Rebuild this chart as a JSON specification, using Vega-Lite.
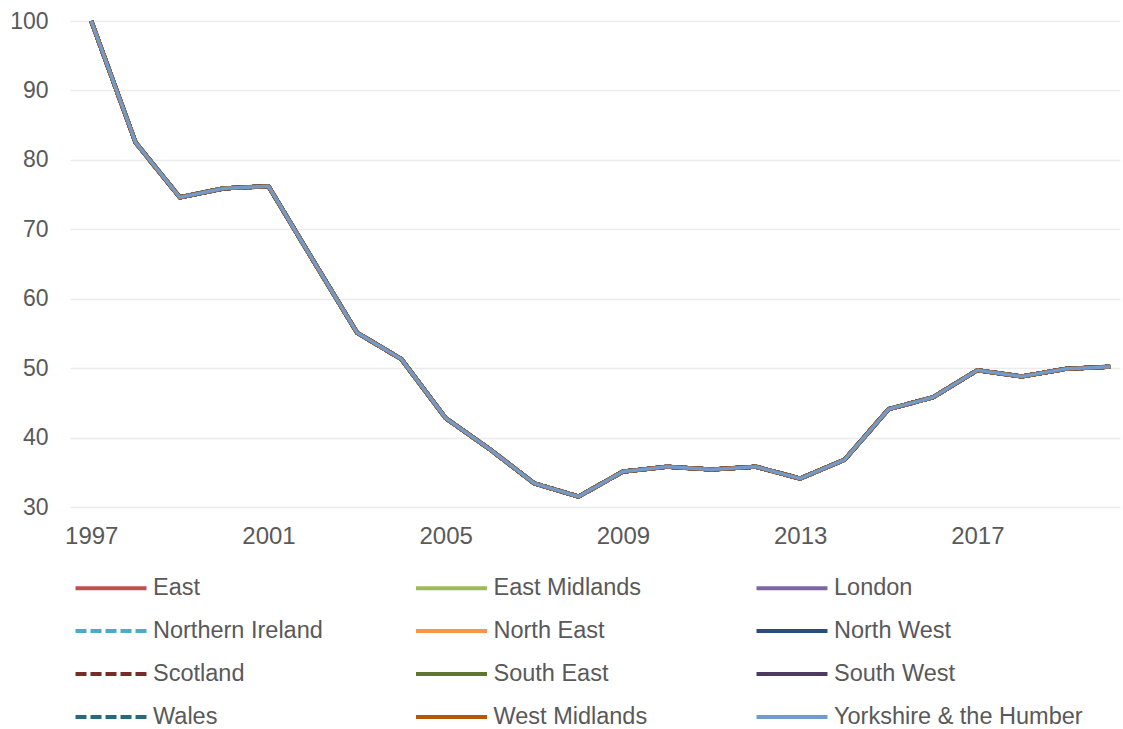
{
  "$schema": "https://vega.github.io/schema/vega-lite/v6.json",
  "autosize": "none",
  "width": 1050,
  "height": 486,
  "padding": {"left": 70, "top": 21, "right": 3, "bottom": 222},
  "background": "#ffffff",
  "config": {
    "font": "Liberation Sans",
    "view": {"stroke": null},
    "axis": {
      "labelFont": "Liberation Sans",
      "labelFontSize": 22,
      "labelColor": "#595959",
      "domain": false,
      "ticks": false,
      "title": null
    },
    "legend": {
      "orient": "none",
      "legendX": 27,
      "legendY": 553,
      "direction": "horizontal",
      "columns": 3,
      "gridAlign": "all",
      "columnPadding": 5.5,
      "rowPadding": 17,
      "padding": 0,
      "symbolType": "M-3,0H3",
      "symbolSize": 560,
      "symbolStrokeWidth": 4,
      "labelFont": "Liberation Sans",
      "labelFontSize": 23.5,
      "labelColor": "#595959",
      "labelOffset": 28,
      "labelLimit": 0
    }
  },
  "data": {
    "values": [
      {"region": "East", "year": 1997, "index": 100},
      {"region": "East", "year": 1998, "index": 82.5},
      {"region": "East", "year": 1999, "index": 74.6},
      {"region": "East", "year": 2000, "index": 75.9},
      {"region": "East", "year": 2001, "index": 76.2},
      {"region": "East", "year": 2002, "index": 65.6},
      {"region": "East", "year": 2003, "index": 55.1},
      {"region": "East", "year": 2004, "index": 51.3},
      {"region": "East", "year": 2005, "index": 42.8},
      {"region": "East", "year": 2006, "index": 38.3},
      {"region": "East", "year": 2007, "index": 33.4},
      {"region": "East", "year": 2008, "index": 31.5},
      {"region": "East", "year": 2009, "index": 35.1},
      {"region": "East", "year": 2010, "index": 35.8},
      {"region": "East", "year": 2011, "index": 35.4},
      {"region": "East", "year": 2012, "index": 35.8},
      {"region": "East", "year": 2013, "index": 34.1},
      {"region": "East", "year": 2014, "index": 36.8},
      {"region": "East", "year": 2015, "index": 44.1},
      {"region": "East", "year": 2016, "index": 45.8},
      {"region": "East", "year": 2017, "index": 49.7},
      {"region": "East", "year": 2018, "index": 48.8},
      {"region": "East", "year": 2019, "index": 49.9},
      {"region": "East", "year": 2020, "index": 50.2},
      {"region": "East Midlands", "year": 1997, "index": 100},
      {"region": "East Midlands", "year": 1998, "index": 82.5},
      {"region": "East Midlands", "year": 1999, "index": 74.6},
      {"region": "East Midlands", "year": 2000, "index": 75.9},
      {"region": "East Midlands", "year": 2001, "index": 76.2},
      {"region": "East Midlands", "year": 2002, "index": 65.6},
      {"region": "East Midlands", "year": 2003, "index": 55.1},
      {"region": "East Midlands", "year": 2004, "index": 51.3},
      {"region": "East Midlands", "year": 2005, "index": 42.8},
      {"region": "East Midlands", "year": 2006, "index": 38.3},
      {"region": "East Midlands", "year": 2007, "index": 33.4},
      {"region": "East Midlands", "year": 2008, "index": 31.5},
      {"region": "East Midlands", "year": 2009, "index": 35.1},
      {"region": "East Midlands", "year": 2010, "index": 35.8},
      {"region": "East Midlands", "year": 2011, "index": 35.4},
      {"region": "East Midlands", "year": 2012, "index": 35.8},
      {"region": "East Midlands", "year": 2013, "index": 34.1},
      {"region": "East Midlands", "year": 2014, "index": 36.8},
      {"region": "East Midlands", "year": 2015, "index": 44.1},
      {"region": "East Midlands", "year": 2016, "index": 45.8},
      {"region": "East Midlands", "year": 2017, "index": 49.7},
      {"region": "East Midlands", "year": 2018, "index": 48.8},
      {"region": "East Midlands", "year": 2019, "index": 49.9},
      {"region": "East Midlands", "year": 2020, "index": 50.2},
      {"region": "London", "year": 1997, "index": 100},
      {"region": "London", "year": 1998, "index": 82.5},
      {"region": "London", "year": 1999, "index": 74.6},
      {"region": "London", "year": 2000, "index": 75.9},
      {"region": "London", "year": 2001, "index": 76.2},
      {"region": "London", "year": 2002, "index": 65.6},
      {"region": "London", "year": 2003, "index": 55.1},
      {"region": "London", "year": 2004, "index": 51.3},
      {"region": "London", "year": 2005, "index": 42.8},
      {"region": "London", "year": 2006, "index": 38.3},
      {"region": "London", "year": 2007, "index": 33.4},
      {"region": "London", "year": 2008, "index": 31.5},
      {"region": "London", "year": 2009, "index": 35.1},
      {"region": "London", "year": 2010, "index": 35.8},
      {"region": "London", "year": 2011, "index": 35.4},
      {"region": "London", "year": 2012, "index": 35.8},
      {"region": "London", "year": 2013, "index": 34.1},
      {"region": "London", "year": 2014, "index": 36.8},
      {"region": "London", "year": 2015, "index": 44.1},
      {"region": "London", "year": 2016, "index": 45.8},
      {"region": "London", "year": 2017, "index": 49.7},
      {"region": "London", "year": 2018, "index": 48.8},
      {"region": "London", "year": 2019, "index": 49.9},
      {"region": "London", "year": 2020, "index": 50.2},
      {"region": "Northern Ireland", "year": 1997, "index": 100},
      {"region": "Northern Ireland", "year": 1998, "index": 82.5},
      {"region": "Northern Ireland", "year": 1999, "index": 74.6},
      {"region": "Northern Ireland", "year": 2000, "index": 75.9},
      {"region": "Northern Ireland", "year": 2001, "index": 76.2},
      {"region": "Northern Ireland", "year": 2002, "index": 65.6},
      {"region": "Northern Ireland", "year": 2003, "index": 55.1},
      {"region": "Northern Ireland", "year": 2004, "index": 51.3},
      {"region": "Northern Ireland", "year": 2005, "index": 42.8},
      {"region": "Northern Ireland", "year": 2006, "index": 38.3},
      {"region": "Northern Ireland", "year": 2007, "index": 33.4},
      {"region": "Northern Ireland", "year": 2008, "index": 31.5},
      {"region": "Northern Ireland", "year": 2009, "index": 35.1},
      {"region": "Northern Ireland", "year": 2010, "index": 35.8},
      {"region": "Northern Ireland", "year": 2011, "index": 35.4},
      {"region": "Northern Ireland", "year": 2012, "index": 35.8},
      {"region": "Northern Ireland", "year": 2013, "index": 34.1},
      {"region": "Northern Ireland", "year": 2014, "index": 36.8},
      {"region": "Northern Ireland", "year": 2015, "index": 44.1},
      {"region": "Northern Ireland", "year": 2016, "index": 45.8},
      {"region": "Northern Ireland", "year": 2017, "index": 49.7},
      {"region": "Northern Ireland", "year": 2018, "index": 48.8},
      {"region": "Northern Ireland", "year": 2019, "index": 49.9},
      {"region": "Northern Ireland", "year": 2020, "index": 50.2},
      {"region": "North East", "year": 1997, "index": 100},
      {"region": "North East", "year": 1998, "index": 82.5},
      {"region": "North East", "year": 1999, "index": 74.6},
      {"region": "North East", "year": 2000, "index": 75.9},
      {"region": "North East", "year": 2001, "index": 76.2},
      {"region": "North East", "year": 2002, "index": 65.6},
      {"region": "North East", "year": 2003, "index": 55.1},
      {"region": "North East", "year": 2004, "index": 51.3},
      {"region": "North East", "year": 2005, "index": 42.8},
      {"region": "North East", "year": 2006, "index": 38.3},
      {"region": "North East", "year": 2007, "index": 33.4},
      {"region": "North East", "year": 2008, "index": 31.5},
      {"region": "North East", "year": 2009, "index": 35.1},
      {"region": "North East", "year": 2010, "index": 35.8},
      {"region": "North East", "year": 2011, "index": 35.4},
      {"region": "North East", "year": 2012, "index": 35.8},
      {"region": "North East", "year": 2013, "index": 34.1},
      {"region": "North East", "year": 2014, "index": 36.8},
      {"region": "North East", "year": 2015, "index": 44.1},
      {"region": "North East", "year": 2016, "index": 45.8},
      {"region": "North East", "year": 2017, "index": 49.7},
      {"region": "North East", "year": 2018, "index": 48.8},
      {"region": "North East", "year": 2019, "index": 49.9},
      {"region": "North East", "year": 2020, "index": 50.2},
      {"region": "North West", "year": 1997, "index": 100},
      {"region": "North West", "year": 1998, "index": 82.5},
      {"region": "North West", "year": 1999, "index": 74.6},
      {"region": "North West", "year": 2000, "index": 75.9},
      {"region": "North West", "year": 2001, "index": 76.2},
      {"region": "North West", "year": 2002, "index": 65.6},
      {"region": "North West", "year": 2003, "index": 55.1},
      {"region": "North West", "year": 2004, "index": 51.3},
      {"region": "North West", "year": 2005, "index": 42.8},
      {"region": "North West", "year": 2006, "index": 38.3},
      {"region": "North West", "year": 2007, "index": 33.4},
      {"region": "North West", "year": 2008, "index": 31.5},
      {"region": "North West", "year": 2009, "index": 35.1},
      {"region": "North West", "year": 2010, "index": 35.8},
      {"region": "North West", "year": 2011, "index": 35.4},
      {"region": "North West", "year": 2012, "index": 35.8},
      {"region": "North West", "year": 2013, "index": 34.1},
      {"region": "North West", "year": 2014, "index": 36.8},
      {"region": "North West", "year": 2015, "index": 44.1},
      {"region": "North West", "year": 2016, "index": 45.8},
      {"region": "North West", "year": 2017, "index": 49.7},
      {"region": "North West", "year": 2018, "index": 48.8},
      {"region": "North West", "year": 2019, "index": 49.9},
      {"region": "North West", "year": 2020, "index": 50.2},
      {"region": "Scotland", "year": 1997, "index": 100},
      {"region": "Scotland", "year": 1998, "index": 82.5},
      {"region": "Scotland", "year": 1999, "index": 74.6},
      {"region": "Scotland", "year": 2000, "index": 75.9},
      {"region": "Scotland", "year": 2001, "index": 76.2},
      {"region": "Scotland", "year": 2002, "index": 65.6},
      {"region": "Scotland", "year": 2003, "index": 55.1},
      {"region": "Scotland", "year": 2004, "index": 51.3},
      {"region": "Scotland", "year": 2005, "index": 42.8},
      {"region": "Scotland", "year": 2006, "index": 38.3},
      {"region": "Scotland", "year": 2007, "index": 33.4},
      {"region": "Scotland", "year": 2008, "index": 31.5},
      {"region": "Scotland", "year": 2009, "index": 35.1},
      {"region": "Scotland", "year": 2010, "index": 35.8},
      {"region": "Scotland", "year": 2011, "index": 35.4},
      {"region": "Scotland", "year": 2012, "index": 35.8},
      {"region": "Scotland", "year": 2013, "index": 34.1},
      {"region": "Scotland", "year": 2014, "index": 36.8},
      {"region": "Scotland", "year": 2015, "index": 44.1},
      {"region": "Scotland", "year": 2016, "index": 45.8},
      {"region": "Scotland", "year": 2017, "index": 49.7},
      {"region": "Scotland", "year": 2018, "index": 48.8},
      {"region": "Scotland", "year": 2019, "index": 49.9},
      {"region": "Scotland", "year": 2020, "index": 50.2},
      {"region": "South East", "year": 1997, "index": 100},
      {"region": "South East", "year": 1998, "index": 82.5},
      {"region": "South East", "year": 1999, "index": 74.6},
      {"region": "South East", "year": 2000, "index": 75.9},
      {"region": "South East", "year": 2001, "index": 76.2},
      {"region": "South East", "year": 2002, "index": 65.6},
      {"region": "South East", "year": 2003, "index": 55.1},
      {"region": "South East", "year": 2004, "index": 51.3},
      {"region": "South East", "year": 2005, "index": 42.8},
      {"region": "South East", "year": 2006, "index": 38.3},
      {"region": "South East", "year": 2007, "index": 33.4},
      {"region": "South East", "year": 2008, "index": 31.5},
      {"region": "South East", "year": 2009, "index": 35.1},
      {"region": "South East", "year": 2010, "index": 35.8},
      {"region": "South East", "year": 2011, "index": 35.4},
      {"region": "South East", "year": 2012, "index": 35.8},
      {"region": "South East", "year": 2013, "index": 34.1},
      {"region": "South East", "year": 2014, "index": 36.8},
      {"region": "South East", "year": 2015, "index": 44.1},
      {"region": "South East", "year": 2016, "index": 45.8},
      {"region": "South East", "year": 2017, "index": 49.7},
      {"region": "South East", "year": 2018, "index": 48.8},
      {"region": "South East", "year": 2019, "index": 49.9},
      {"region": "South East", "year": 2020, "index": 50.2},
      {"region": "South West", "year": 1997, "index": 100},
      {"region": "South West", "year": 1998, "index": 82.5},
      {"region": "South West", "year": 1999, "index": 74.6},
      {"region": "South West", "year": 2000, "index": 75.9},
      {"region": "South West", "year": 2001, "index": 76.2},
      {"region": "South West", "year": 2002, "index": 65.6},
      {"region": "South West", "year": 2003, "index": 55.1},
      {"region": "South West", "year": 2004, "index": 51.3},
      {"region": "South West", "year": 2005, "index": 42.8},
      {"region": "South West", "year": 2006, "index": 38.3},
      {"region": "South West", "year": 2007, "index": 33.4},
      {"region": "South West", "year": 2008, "index": 31.5},
      {"region": "South West", "year": 2009, "index": 35.1},
      {"region": "South West", "year": 2010, "index": 35.8},
      {"region": "South West", "year": 2011, "index": 35.4},
      {"region": "South West", "year": 2012, "index": 35.8},
      {"region": "South West", "year": 2013, "index": 34.1},
      {"region": "South West", "year": 2014, "index": 36.8},
      {"region": "South West", "year": 2015, "index": 44.1},
      {"region": "South West", "year": 2016, "index": 45.8},
      {"region": "South West", "year": 2017, "index": 49.7},
      {"region": "South West", "year": 2018, "index": 48.8},
      {"region": "South West", "year": 2019, "index": 49.9},
      {"region": "South West", "year": 2020, "index": 50.2},
      {"region": "Wales", "year": 1997, "index": 100},
      {"region": "Wales", "year": 1998, "index": 82.5},
      {"region": "Wales", "year": 1999, "index": 74.6},
      {"region": "Wales", "year": 2000, "index": 75.9},
      {"region": "Wales", "year": 2001, "index": 76.2},
      {"region": "Wales", "year": 2002, "index": 65.6},
      {"region": "Wales", "year": 2003, "index": 55.1},
      {"region": "Wales", "year": 2004, "index": 51.3},
      {"region": "Wales", "year": 2005, "index": 42.8},
      {"region": "Wales", "year": 2006, "index": 38.3},
      {"region": "Wales", "year": 2007, "index": 33.4},
      {"region": "Wales", "year": 2008, "index": 31.5},
      {"region": "Wales", "year": 2009, "index": 35.1},
      {"region": "Wales", "year": 2010, "index": 35.8},
      {"region": "Wales", "year": 2011, "index": 35.4},
      {"region": "Wales", "year": 2012, "index": 35.8},
      {"region": "Wales", "year": 2013, "index": 34.1},
      {"region": "Wales", "year": 2014, "index": 36.8},
      {"region": "Wales", "year": 2015, "index": 44.1},
      {"region": "Wales", "year": 2016, "index": 45.8},
      {"region": "Wales", "year": 2017, "index": 49.7},
      {"region": "Wales", "year": 2018, "index": 48.8},
      {"region": "Wales", "year": 2019, "index": 49.9},
      {"region": "Wales", "year": 2020, "index": 50.2},
      {"region": "West Midlands", "year": 1997, "index": 100},
      {"region": "West Midlands", "year": 1998, "index": 82.5},
      {"region": "West Midlands", "year": 1999, "index": 74.6},
      {"region": "West Midlands", "year": 2000, "index": 75.9},
      {"region": "West Midlands", "year": 2001, "index": 76.2},
      {"region": "West Midlands", "year": 2002, "index": 65.6},
      {"region": "West Midlands", "year": 2003, "index": 55.1},
      {"region": "West Midlands", "year": 2004, "index": 51.3},
      {"region": "West Midlands", "year": 2005, "index": 42.8},
      {"region": "West Midlands", "year": 2006, "index": 38.3},
      {"region": "West Midlands", "year": 2007, "index": 33.4},
      {"region": "West Midlands", "year": 2008, "index": 31.5},
      {"region": "West Midlands", "year": 2009, "index": 35.1},
      {"region": "West Midlands", "year": 2010, "index": 35.8},
      {"region": "West Midlands", "year": 2011, "index": 35.4},
      {"region": "West Midlands", "year": 2012, "index": 35.8},
      {"region": "West Midlands", "year": 2013, "index": 34.1},
      {"region": "West Midlands", "year": 2014, "index": 36.8},
      {"region": "West Midlands", "year": 2015, "index": 44.1},
      {"region": "West Midlands", "year": 2016, "index": 45.8},
      {"region": "West Midlands", "year": 2017, "index": 49.7},
      {"region": "West Midlands", "year": 2018, "index": 48.8},
      {"region": "West Midlands", "year": 2019, "index": 49.9},
      {"region": "West Midlands", "year": 2020, "index": 50.2},
      {"region": "Yorkshire & the Humber", "year": 1997, "index": 100},
      {"region": "Yorkshire & the Humber", "year": 1998, "index": 82.5},
      {"region": "Yorkshire & the Humber", "year": 1999, "index": 74.6},
      {"region": "Yorkshire & the Humber", "year": 2000, "index": 75.9},
      {"region": "Yorkshire & the Humber", "year": 2001, "index": 76.2},
      {"region": "Yorkshire & the Humber", "year": 2002, "index": 65.6},
      {"region": "Yorkshire & the Humber", "year": 2003, "index": 55.1},
      {"region": "Yorkshire & the Humber", "year": 2004, "index": 51.3},
      {"region": "Yorkshire & the Humber", "year": 2005, "index": 42.8},
      {"region": "Yorkshire & the Humber", "year": 2006, "index": 38.3},
      {"region": "Yorkshire & the Humber", "year": 2007, "index": 33.4},
      {"region": "Yorkshire & the Humber", "year": 2008, "index": 31.5},
      {"region": "Yorkshire & the Humber", "year": 2009, "index": 35.1},
      {"region": "Yorkshire & the Humber", "year": 2010, "index": 35.8},
      {"region": "Yorkshire & the Humber", "year": 2011, "index": 35.4},
      {"region": "Yorkshire & the Humber", "year": 2012, "index": 35.8},
      {"region": "Yorkshire & the Humber", "year": 2013, "index": 34.1},
      {"region": "Yorkshire & the Humber", "year": 2014, "index": 36.8},
      {"region": "Yorkshire & the Humber", "year": 2015, "index": 44.1},
      {"region": "Yorkshire & the Humber", "year": 2016, "index": 45.8},
      {"region": "Yorkshire & the Humber", "year": 2017, "index": 49.7},
      {"region": "Yorkshire & the Humber", "year": 2018, "index": 48.8},
      {"region": "Yorkshire & the Humber", "year": 2019, "index": 49.9},
      {"region": "Yorkshire & the Humber", "year": 2020, "index": 50.2}
    ]
  },
  "encoding": {
    "x": {
      "field": "year",
      "type": "quantitative",
      "scale": {"domain": [1996.52, 2020.22], "nice": false, "zero": false},
      "axis": {
        "values": [1997, 2001, 2005, 2009, 2013, 2017],
        "format": "d",
        "grid": false,
        "labelFontSize": 24,
        "labelPadding": 17,
        "labelFlush": false
      }
    },
    "y": {
      "field": "index",
      "type": "quantitative",
      "scale": {"domain": [30, 100], "nice": false, "zero": false},
      "axis": {
        "values": [30, 40, 50, 60, 70, 80, 90, 100],
        "grid": true,
        "gridColor": "#ebebeb",
        "gridWidth": 1.3,
        "labelFontSize": 23,
        "labelPadding": 22
      }
    },
    "color": {
      "field": "region",
      "type": "nominal",
      "title": null,
      "scale": {
        "domain": ["East", "East Midlands", "London", "Northern Ireland", "North East", "North West", "Scotland", "South East", "South West", "Wales", "West Midlands", "Yorkshire & the Humber"],
        "range": ["#c0504d", "#9bbb59", "#8064a2", "#4bacc6", "#f79646", "#2c4d75", "#772c2a", "#5f7530", "#4d3b62", "#276a7c", "#b65708", "#729aca"]
      }
    },
    "strokeDash": {
      "field": "region",
      "type": "nominal",
      "title": null,
      "scale": {
        "domain": ["East", "East Midlands", "London", "Northern Ireland", "North East", "North West", "Scotland", "South East", "South West", "Wales", "West Midlands", "Yorkshire & the Humber"],
        "range": [[1, 0], [1, 0], [1, 0], [11, 4], [1, 0], [1, 0], [11, 4], [1, 0], [1, 0], [11, 4], [1, 0], [1, 0]]
      }
    }
  },
  "layer": [
    {
      "transform": [{"filter": "datum.region !== 'Yorkshire & the Humber'"}],
      "mark": {"type": "line", "strokeWidth": 4.2, "strokeJoin": "round"}
    },
    {
      "transform": [{"filter": "datum.region === 'Yorkshire & the Humber'"}],
      "mark": {"type": "line", "strokeWidth": 3.4, "strokeJoin": "round"}
    }
  ]
}
